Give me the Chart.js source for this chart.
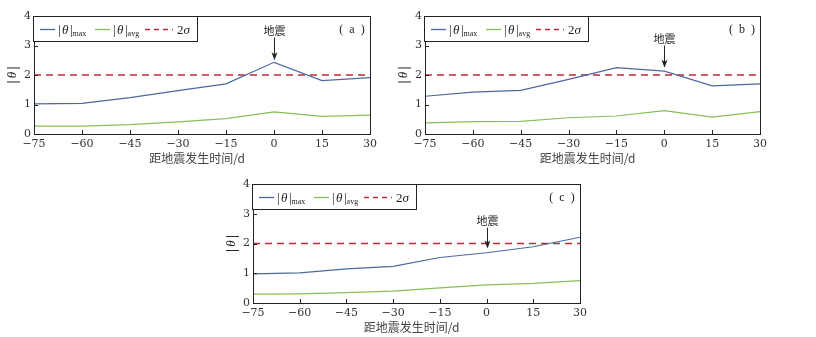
<!DOCTYPE html>
<html>
<head>
<meta charset="utf-8">
<script src="https://cdn.jsdelivr.net/npm/chart.js@4/dist/chart.umd.min.js"></script>
<style>
  body { margin: 0; background: #fff; width: 816px; height: 337px; position: relative; overflow: hidden; }
  canvas { position: absolute; }
</style>
</head>
<body>
<canvas id="chart_a" width="400" height="170" style="left:0px;top:0px"></canvas>
<canvas id="chart_b" width="426" height="170" style="left:390px;top:0px"></canvas>
<canvas id="chart_c" width="400" height="169" style="left:219px;top:168px"></canvas>
<script>
// days before / after the quake
const days = [ -75, -60, -45, -30, -15, 0, 15, 30 ];

// panel (a)
const max_a = [ 1.02, 1.04, 1.23, 1.47, 1.70, 2.43, 1.81, 1.91 ];
const avg_a = [ 0.27, 0.27, 0.32, 0.41, 0.52, 0.75, 0.60, 0.64 ];
const sigma_a = [ 2.0, 2.0, 2.0, 2.0, 2.0, 2.0, 2.0, 2.0 ];

// panel (b)
const max_b = [ 1.28, 1.42, 1.48, 1.85, 2.25, 2.13, 1.63, 1.70 ];
const avg_b = [ 0.38, 0.42, 0.43, 0.55, 0.61, 0.79, 0.57, 0.76 ];
const sigma_b = [ 2.0, 2.0, 2.0, 2.0, 2.0, 2.0, 2.0, 2.0 ];

// panel (c)
const max_c = [ 0.98, 1.01, 1.15, 1.23, 1.53, 1.69, 1.89, 2.21 ];
const avg_c = [ 0.30, 0.31, 0.35, 0.40, 0.51, 0.61, 0.66, 0.75 ];
const sigma_c = [ 2.0, 2.0, 2.0, 2.0, 2.0, 2.0, 2.0, 2.0 ];

const y_ticks = [ 0, 1, 2, 3, 4 ];
const x_title = '距地震发生时间/d';
const quake_label = '地震';

const COLOR_MAX = '#4a6a9c';
const COLOR_AVG = '#86bf58';
const COLOR_SIGMA = '#c0283a';
const INK = '#222';
const SERIF = '"Liberation Serif", "DejaVu Serif", serif';
const TICK_FONT = '"DejaVu Serif", serif';
const CJK = '"Noto Sans CJK SC", sans-serif';

function to_points( ys ) {
  return days.map( ( d, i ) => ( { x: d, y: ys[ i ] } ) );
}

function fmt_tick( v ) {
  return v < 0 ? '\u2212' + Math.abs( v ) : String( v );
}

function draw_legend( ctx, left, top ) {
  ctx.save();
  ctx.fillStyle = '#fff';
  ctx.fillRect( left, top, 164, 25 );
  ctx.strokeStyle = INK;
  ctx.lineWidth = 1;
  ctx.strokeRect( left + 0.5, top + 0.5, 164, 25 );
  var mid = top + 13;
  var entries = [
    { x0: 7, x1: 22, color: COLOR_MAX, dash: [], tx: 25, sub: 'max' },
    { x0: 62, x1: 77, color: COLOR_AVG, dash: [], tx: 80, sub: 'avg' },
    { x0: 112, x1: 140, color: COLOR_SIGMA, dash: [ 5, 4 ], tx: 144, sub: null }
  ];
  entries.forEach( e => {
    ctx.beginPath();
    ctx.setLineDash( e.dash );
    ctx.strokeStyle = e.color;
    ctx.lineWidth = 1.3;
    ctx.moveTo( left + e.x0, mid + 0.5 );
    ctx.lineTo( left + e.x1, mid + 0.5 );
    ctx.stroke();
    ctx.setLineDash( [] );
    ctx.fillStyle = INK;
    ctx.textBaseline = 'alphabetic';
    ctx.textAlign = 'left';
    var x = left + e.tx;
    if ( e.sub ) {
      ctx.font = '13px ' + SERIF;
      ctx.fillText( '|', x, mid + 5 );
      x += ctx.measureText( '|' ).width + 1.5;
      ctx.font = 'italic 13px ' + SERIF;
      ctx.fillText( 'θ', x, mid + 5 );
      x += ctx.measureText( 'θ' ).width + 1.5;
      ctx.font = '13px ' + SERIF;
      ctx.fillText( '|', x, mid + 5 );
      x += ctx.measureText( '|' ).width;
      ctx.font = '8px ' + SERIF;
      ctx.fillText( e.sub, x, mid + 7 );
    } else {
      ctx.font = '13px ' + SERIF;
      ctx.fillText( '2', x, mid + 5 );
      x += ctx.measureText( '2' ).width;
      ctx.font = 'italic 13px ' + SERIF;
      ctx.fillText( 'σ', x, mid + 5 );
    }
  } );
  ctx.restore();
}

// frame, inward ticks, legend, titles and the quake arrow
const panel_plugin = {
  id: 'panel_plugin',
  afterDraw( chart ) {
    var ctx = chart.ctx;
    var a = chart.chartArea;
    var xs = chart.scales.x;
    var ys = chart.scales.y;
    var opt = chart.options.plugins.panel_plugin;
    ctx.save();
    ctx.strokeStyle = INK;
    ctx.lineWidth = 1;
    ctx.strokeRect( Math.round( a.left ) + 0.5, Math.round( a.top ) + 0.5,
      Math.round( a.right - a.left ), Math.round( a.bottom - a.top ) );
    ctx.beginPath();
    days.forEach( d => {
      var px = Math.round( xs.getPixelForValue( d ) ) + 0.5;
      ctx.moveTo( px, a.bottom );
      ctx.lineTo( px, a.bottom - 4 );
    } );
    y_ticks.forEach( v => {
      var py = Math.round( ys.getPixelForValue( v ) ) + 0.5;
      ctx.moveTo( a.left, py );
      ctx.lineTo( a.left + 4, py );
    } );
    ctx.stroke();

    draw_legend( ctx, Math.round( a.left ) - 1, Math.round( a.top ) );

    // panel tag
    ctx.fillStyle = INK;
    ctx.font = '12px ' + SERIF;
    ctx.textAlign = 'center';
    ctx.textBaseline = 'middle';
    ctx.fillText( '(  ' + opt.tag + '  )', a.right - 18, a.top + 14 );

    // quake arrow
    var qx = Math.round( xs.getPixelForValue( 0 ) ) + 0.5;
    var tip = ys.getPixelForValue( opt.arrow_tip );
    var tail = ys.getPixelForValue( opt.arrow_tail );
    ctx.font = '11px ' + CJK;
    ctx.fillText( quake_label, qx, tail - 7 );
    ctx.beginPath();
    ctx.moveTo( qx, tail );
    ctx.lineTo( qx, tip - 5 );
    ctx.stroke();
    ctx.beginPath();
    ctx.moveTo( qx, tip );
    ctx.lineTo( qx - 3, tip - 8 );
    ctx.lineTo( qx, tip - 6 );
    ctx.lineTo( qx + 3, tip - 8 );
    ctx.closePath();
    ctx.fill();

    // axis titles
    ctx.fillStyle = '#444';
    ctx.font = '12px ' + CJK;
    ctx.fillText( x_title, ( a.left + a.right ) / 2 - 5, a.bottom + 24 );
    ctx.fillStyle = INK;
    ctx.save();
    ctx.translate( a.left - 21, ( a.top + a.bottom ) / 2 );
    ctx.rotate( -Math.PI / 2 );
    ctx.font = 'bold 14px ' + SERIF;
    ctx.fillText( '|', -7, 0 );
    ctx.fillText( '|', 7, 0 );
    ctx.font = 'italic 13px ' + SERIF;
    ctx.fillText( 'θ', 0, 0 );
    ctx.restore();
    ctx.restore();
  }
};

function create_panel( canvas_id, max_in, avg_in, sigma_in, cfg ) {
  var canvas = document.getElementById( canvas_id );
  var w = canvas.width;
  var h = canvas.height;
  return new Chart( canvas.getContext( '2d' ), {
    type: 'line',
    data: {
      datasets: [
        { label: 'max', data: to_points( max_in ), borderColor: COLOR_MAX, borderWidth: 1.2,
          pointRadius: 0, tension: 0 },
        { label: 'avg', data: to_points( avg_in ), borderColor: COLOR_AVG, borderWidth: 1.2,
          pointRadius: 0, tension: 0 },
        { label: '2σ', data: to_points( sigma_in ), borderColor: COLOR_SIGMA, borderWidth: 1.3,
          borderDash: [ 7, 5 ], pointRadius: 0 }
      ]
    },
    options: {
      responsive: false,
      animation: false,
      layout: { padding: { left: 0, top: cfg.top, right: w - cfg.right, bottom: 0 } },
      plugins: {
        legend: { display: false },
        tooltip: { enabled: false },
        panel_plugin: { tag: cfg.tag, arrow_tip: cfg.arrow_tip, arrow_tail: cfg.arrow_tail }
      },
      scales: {
        x: {
          type: 'linear', min: -75, max: 30,
          afterFit: s => { s.height = h - cfg.bottom; },
          grid: { display: false, drawTicks: false },
          border: { display: false },
          ticks: { stepSize: 15, padding: 4, color: '#333', font: { family: TICK_FONT, size: 11 },
            callback: v => fmt_tick( v ), maxRotation: 0, autoSkip: false }
        },
        y: {
          min: 0, max: 4,
          afterFit: s => { s.width = cfg.left; },
          grid: { display: false, drawTicks: false },
          border: { display: false },
          ticks: { stepSize: 1, padding: 3, color: '#333', font: { family: TICK_FONT, size: 11 } }
        }
      }
    },
    plugins: [ panel_plugin ]
  } );
}

document.addEventListener( 'DOMContentLoaded', function () {
  create_panel( 'chart_a', max_a, avg_a, sigma_a,
    { left: 34, right: 370, top: 16, bottom: 134, tag: 'a', arrow_tip: 2.5, arrow_tail: 3.27 } );
  create_panel( 'chart_b', max_b, avg_b, sigma_b,
    { left: 35, right: 370, top: 16, bottom: 134, tag: 'b', arrow_tip: 2.25, arrow_tail: 3.0 } );
  create_panel( 'chart_c', max_c, avg_c, sigma_c,
    { left: 34, right: 361, top: 16, bottom: 135, tag: 'c', arrow_tip: 1.83, arrow_tail: 2.53 } );
} );
</script>
</body>
</html>
